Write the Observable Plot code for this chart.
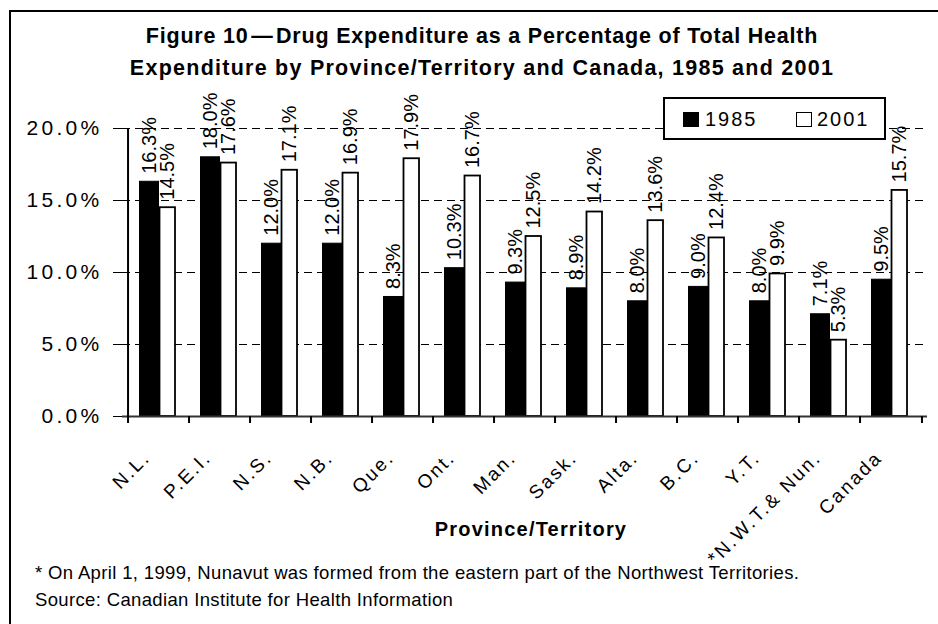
<!DOCTYPE html>
<html>
<head>
<meta charset="utf-8">
<script src="https://cdn.jsdelivr.net/npm/d3@7"></script>
<script src="https://cdn.jsdelivr.net/npm/@observablehq/plot@0.6"></script>
<style>
  html, body { margin: 0; padding: 0; background: #fff; }
  #wrap { position: relative; width: 938px; height: 624px; overflow: hidden; font-family: "Liberation Sans", Arial, sans-serif; color: #000; }
  #border { position: absolute; left: 9px; top: 10px; width: 940px; height: 700px; border-left: 2px solid #000; border-top: 2px solid #000; box-sizing: border-box; }
  #title { position: absolute; left: 0; width: 964px; top: 20px; text-align: center; font-weight: bold; font-size: 21.5px; line-height: 32px; }
  #title .l1 { letter-spacing: 0.8px; }
  #title .l2 { letter-spacing: 1.25px; }
  #xtitle { position: absolute; left: 331px; width: 400px; top: 519px; text-align: center; font-weight: bold; font-size: 20px; line-height: 20px; letter-spacing: 1.2px; }
  #notes { position: absolute; left: 35px; top: 559px; font-size: 18.5px; line-height: 27px; white-space: nowrap; letter-spacing: 0.35px; }
  #legend { position: absolute; left: 663px; top: 97px; width: 223px; height: 43px; border: 2px solid #000; background: #fff; box-sizing: border-box; font-size: 20px; letter-spacing: 2px; }
  .sw { position: absolute; top: 13px; width: 16px; height: 15px; border: 1.5px solid #000; box-sizing: border-box; }
  .lt { position: absolute; top: 9px; line-height: 22px; }
  svg g[aria-label="y-axis tick label"] text { letter-spacing: 3.3px; }
  svg g[aria-label="x-axis tick label"] text { letter-spacing: 2.3px; }
  svg { position: absolute; left: 0; top: 0; }
</style>
</head>
<body>
<div id="wrap">
  <div id="chart"></div>
  <div id="border"></div>
  <div id="title"></div>
  <div id="legend"></div>
  <div id="xtitle"></div>
  <div id="notes"></div>
</div>
<script>
const categories = ["N.L.", "P.E.I.", "N.S.", "N.B.", "Que.", "Ont.", "Man.", "Sask.", "Alta.", "B.C.", "Y.T.", "*N.W.T.& Nun.", "Canada"];
const values1985 = [16.3, 18.0, 12.0, 12.0, 8.3, 10.3, 9.3, 8.9, 8.0, 9.0, 8.0, 7.1, 9.5];
const values2001 = [14.5, 17.6, 17.1, 16.9, 17.9, 16.7, 12.5, 14.2, 13.6, 12.4, 9.9, 5.3, 15.7];
const years = ["1985", "2001"];
const yTicks = [0, 5, 10, 15, 20];
const gridTicks = [5, 10, 15, 20];
const titleLines = ["Figure 10\u200a\u2014\u200aDrug Expenditure as a Percentage of Total Health", "Expenditure by Province/Territory and Canada, 1985 and 2001"];
const xTitle = "Province/Territory";
const notes = ["* On April 1, 1999, Nunavut was formed from the eastern part of the Northwest Territories.", "Source: Canadian Institute for Health Information"];

const rows = categories.map((c, i) => ({cat: c, v1985: values1985[i], v2001: values2001[i]}));
const fmt = d => d.toFixed(1) + "%";
const half = (938 - 122 - 11) / categories.length / 2;

const chart = Plot.plot({
  width: 938,
  height: 624,
  marginTop: 128,
  marginBottom: 208,
  marginLeft: 122,
  marginRight: 11,
  style: {fontFamily: '"Liberation Sans", Arial, sans-serif', color: "#000", background: "transparent"},
  x: {domain: categories, padding: 0},
  y: {domain: [0, 20]},
  marks: [
    Plot.ruleY(gridTicks, {stroke: "#000", strokeWidth: 1, strokeDasharray: "8,5"}),
    Plot.barY(rows, {x: "cat", y: "v1985", fill: "#000", stroke: "#000", strokeWidth: 1, insetLeft: 11.5, insetRight: 30.5}),
    Plot.barY(rows, {x: "cat", y: "v2001", fill: "#fff", stroke: "#000", strokeWidth: 1.8, insetLeft: 31.5, insetRight: 14}),
    Plot.ruleY([0], {stroke: "#333", strokeWidth: 2}),
    Plot.ruleX([categories[0]], {y1: 0, y2: 20, dx: -half, stroke: "#000", strokeWidth: 2}),
    Plot.ruleX(categories, {y1: 0, y2: 0, dx: -half, insetBottom: -7, stroke: "#000", strokeWidth: 2}),
    Plot.ruleX([categories[categories.length - 1]], {y1: 0, y2: 0, dx: half, insetBottom: -7, stroke: "#000", strokeWidth: 2}),
    Plot.axisY({ticks: yTicks, tickFormat: fmt, tickSize: 9, tickPadding: 11, fontSize: 21, label: null, stroke: "#000"}),
    Plot.axisX({tickSize: 0, tickRotate: -45, fontSize: 19, label: null, tickPadding: 0, dy: 38, dx: -12}),
    Plot.text(rows, {x: "cat", y: "v1985", text: d => fmt(d.v1985), rotate: -90, textAnchor: "start", dx: -9.5, dy: -8, fontSize: 20, fill: "#000"}),
    Plot.text(rows, {x: "cat", y: "v2001", text: d => fmt(d.v2001), rotate: -90, textAnchor: "start", dx: 8.5, dy: -8, fontSize: 20, fill: "#000"})
  ]
});
document.getElementById("chart").appendChild(chart);

document.getElementById("title").innerHTML = titleLines.map((t, i) => `<span class="l${i + 1}">${t}</span>`).join("<br>");
document.getElementById("xtitle").textContent = xTitle;
document.getElementById("notes").innerHTML = notes.join("<br>");
const lg = document.getElementById("legend");
const swX = [18, 131], txX = [40, 152];
years.forEach((y, i) => {
  const s = document.createElement("div");
  s.className = "sw";
  s.style.left = swX[i] + "px";
  s.style.background = i === 0 ? "#000" : "#fff";
  lg.appendChild(s);
  const t = document.createElement("div");
  t.className = "lt";
  t.style.left = txX[i] + "px";
  t.textContent = y;
  lg.appendChild(t);
});
</script>
</body>
</html>
